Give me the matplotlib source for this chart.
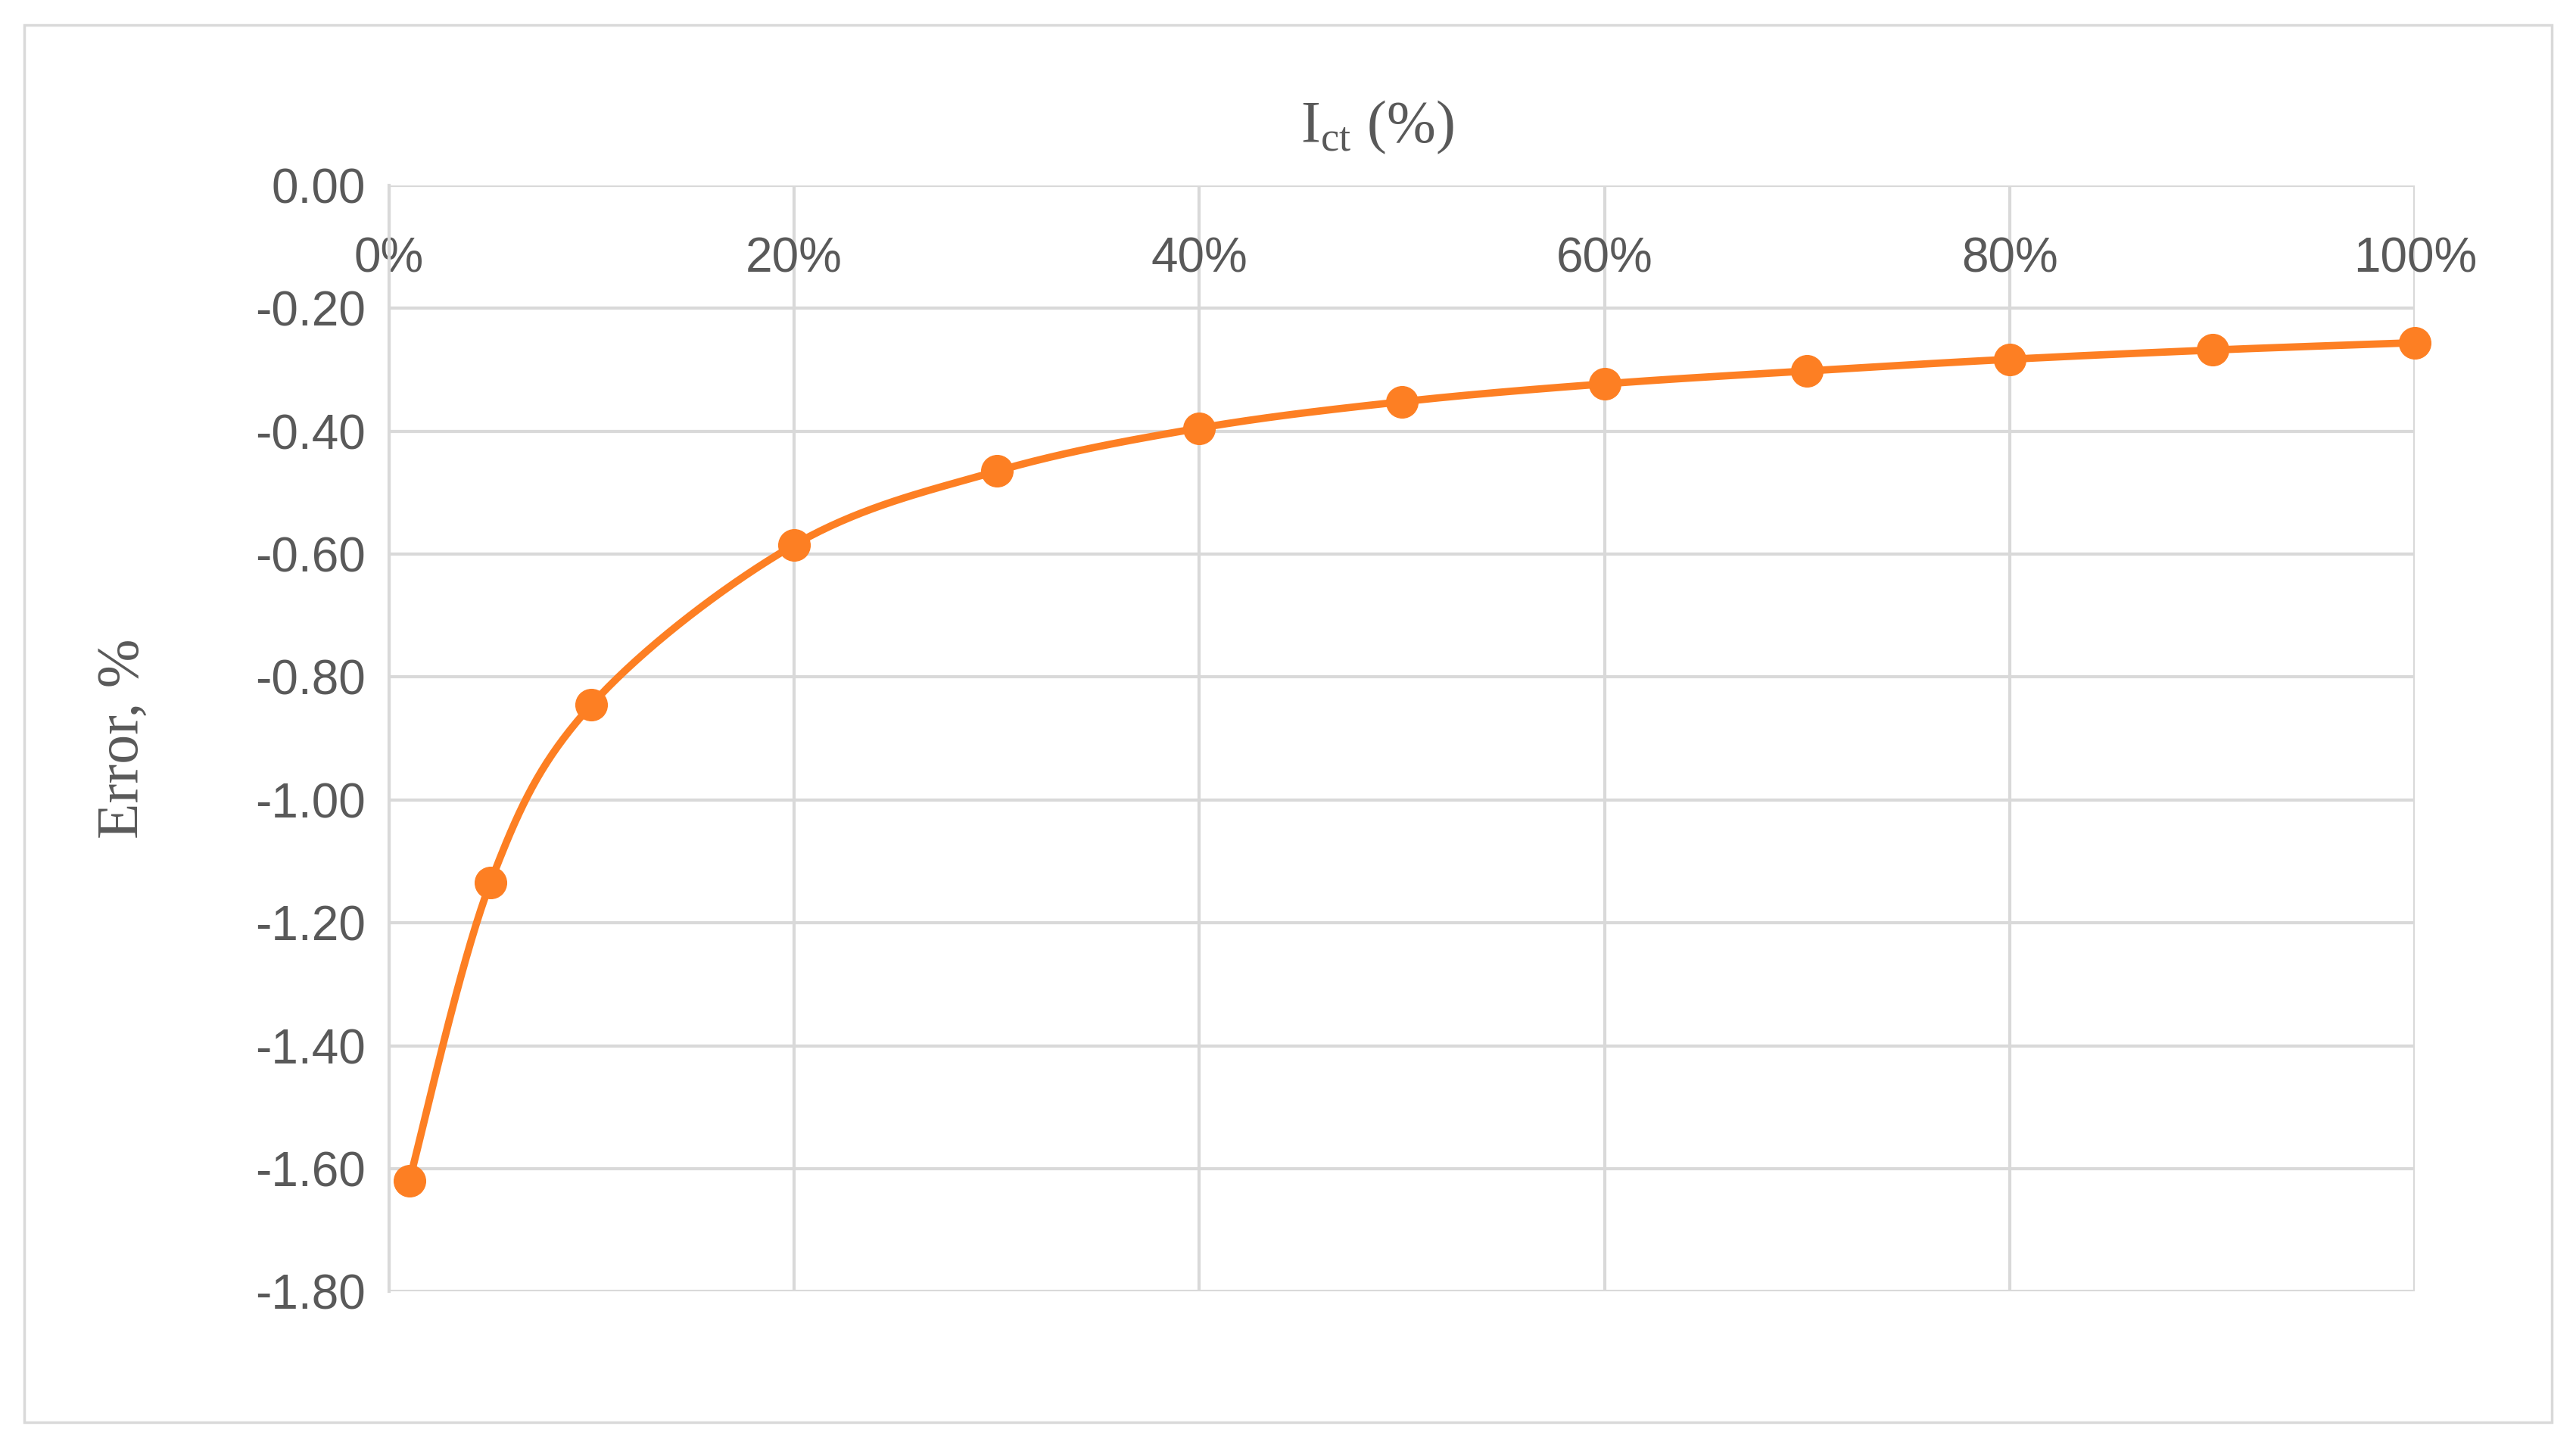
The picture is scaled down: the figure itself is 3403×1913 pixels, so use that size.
import numpy as np
import matplotlib
matplotlib.use("Agg")
import matplotlib.pyplot as plt
from matplotlib.patches import Rectangle

x_pct = [1, 5, 10, 20, 30, 40, 50, 60, 70, 80, 90, 100]
error = [-1.62, -1.135, -0.845, -0.585, -0.465, -0.395, -0.352, -0.323, -0.302, -0.283, -0.268, -0.256]
xticks = [0, 20, 40, 60, 80, 100]
xticklabels = ["0%", "20%", "40%", "60%", "80%", "100%"]
yticks = [0.0, -0.2, -0.4, -0.6, -0.8, -1.0, -1.2, -1.4, -1.6, -1.8]

fig = plt.figure(figsize=(34.03, 19.13), dpi=100)
fig.patches.append(Rectangle((0.0095, 0.018), 0.981, 0.965, transform=fig.transFigure,
                             fill=False, edgecolor="#d9d9d9", linewidth=2.5))
ax = fig.add_axes([0.151, 0.108, 0.7865, 0.764])

# Catmull-Rom smoothing for the line (Excel smoothed line look)
P = np.column_stack([x_pct, error]).astype(float)
pts = [P[0]] + list(P) + [P[-1]]
cx, cy = [], []
for i in range(1, len(pts) - 2):
    p0, p1, p2, p3 = pts[i-1], pts[i], pts[i+1], pts[i+2]
    t = np.linspace(0, 1, 40)[:, None]
    c = 0.5 * ((2*p1) + (-p0 + p2)*t + (2*p0 - 5*p1 + 4*p2 - p3)*t**2 + (-p0 + 3*p1 - 3*p2 + p3)*t**3)
    cx.extend(c[:, 0]); cy.extend(c[:, 1])
orange = "#fd7f23"
ax.plot(cx, cy, color=orange, lw=7, zorder=3, clip_on=False)
ax.plot(x_pct, error, "o", color=orange, ms=30, zorder=4, clip_on=False)

ax.set_xlim(0, 100)
ax.set_ylim(-1.8, 0)
ax.set_xticks(xticks)
ax.set_xticklabels(xticklabels)
ax.set_yticks(yticks)
ax.set_yticklabels([f"{v:.2f}" for v in yticks])
ax.xaxis.tick_top()
ax.grid(True, color="#d9d9d9", lw=3)
ax.set_axisbelow(True)
for s in ax.spines.values():
    s.set_visible(False)
ax.spines["left"].set_visible(True)
ax.spines["left"].set_color("#d9d9d9"); ax.spines["left"].set_linewidth(3)
ax.tick_params(length=0, labelsize=46, colors="#595959")
ax.tick_params(axis="y", pad=22)
ax.tick_params(axis="x", pad=-92)
for lab in ax.get_xticklabels() + ax.get_yticklabels():
    lab.set_family("Liberation Sans")
fig.text(0.5345, 0.912, r"I$_{\mathregular{ct}}$ (%)", fontsize=56, color="#595959",
         family="Liberation Serif", ha="center", va="center")
fig.text(0.048, 0.49, "Error, %", fontsize=56, color="#595959",
         family="Liberation Serif", ha="center", va="center", rotation=90)

fig.savefig("out.png", dpi=100)
